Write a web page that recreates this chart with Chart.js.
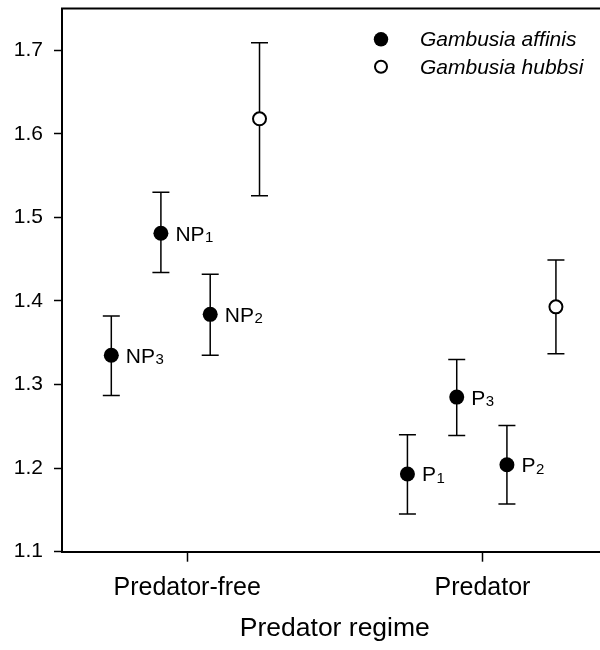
<!DOCTYPE html>
<html>
<head>
<meta charset="utf-8">
<script src="https://cdn.jsdelivr.net/npm/chart.js@4"></script>
<style>
  html, body { margin: 0; padding: 0; background: #fff; overflow: hidden; }
  #wrap { width: 600px; height: 650px; overflow: hidden; }
</style>
</head>
<body>
<div id="wrap"><canvas id="chart" width="620" height="650"></canvas></div>
<script>
// predator regime groups sit at x = 1 and x = 2
var categories = ['Predator-free', 'Predator'];
var categoryPos = [1, 2];
var yTicks = [1.1, 1.2, 1.3, 1.4, 1.5, 1.6, 1.7];

// Gambusia affinis populations
var affinisX = [0.743, 0.911, 1.078, 1.746, 1.913, 2.083];
var affinisY = [1.335, 1.481, 1.384, 1.193, 1.285, 1.204];
var affinisLow = [1.287, 1.434, 1.335, 1.145, 1.239, 1.157];
var affinisHigh = [1.382, 1.530, 1.432, 1.240, 1.330, 1.251];
var affinisName = ['NP', 'NP', 'NP', 'P', 'P', 'P'];
var affinisSub = ['3', '1', '2', '1', '3', '2'];

// Gambusia hubbsi
var hubbsiX = [1.245, 2.249];
var hubbsiY = [1.618, 1.393];
var hubbsiLow = [1.526, 1.337];
var hubbsiHigh = [1.709, 1.449];

var FONT = "'Liberation Sans', Arial, Helvetica, sans-serif";

function toPoints(xs, ys) {
    return xs.map(function(x, i) { return { x: x, y: ys[i] }; });
}

var errorBars = {
    id: 'errorBars',
    beforeDatasetsDraw: function(chart) {
        var ctx = chart.ctx;
        var yScale = chart.scales.y;
        ctx.save();
        ctx.strokeStyle = '#000';
        ctx.lineWidth = 1.5;
        chart.data.datasets.forEach(function(ds, di) {
            var meta = chart.getDatasetMeta(di);
            meta.data.forEach(function(pt, i) {
                var top = yScale.getPixelForValue(ds.errHigh[i]);
                var bot = yScale.getPixelForValue(ds.errLow[i]);
                ctx.beginPath();
                ctx.moveTo(pt.x, top); ctx.lineTo(pt.x, bot);
                ctx.moveTo(pt.x - 8.5, top); ctx.lineTo(pt.x + 8.5, top);
                ctx.moveTo(pt.x - 8.5, bot); ctx.lineTo(pt.x + 8.5, bot);
                ctx.stroke();
            });
        });
        ctx.restore();
    }
};

var pointLabels = {
    id: 'pointLabels',
    afterDatasetsDraw: function(chart) {
        var ctx = chart.ctx;
        var meta = chart.getDatasetMeta(0);
        ctx.save();
        ctx.fillStyle = '#000';
        ctx.textBaseline = 'alphabetic';
        ctx.textAlign = 'left';
        meta.data.forEach(function(pt, i) {
            var x = pt.x + 14.5;
            var base = pt.y + 7.5;
            ctx.font = '21px ' + FONT;
            ctx.fillText(affinisName[i], x, base);
            var w = ctx.measureText(affinisName[i]).width;
            ctx.font = '15px ' + FONT;
            ctx.fillText(affinisSub[i], x + w + 0.5, base + 1.5);
        });
        ctx.restore();
    }
};

var frameAndLegend = {
    id: 'frameAndLegend',
    afterDraw: function(chart) {
        var ctx = chart.ctx;
        var a = chart.chartArea;
        ctx.save();
        ctx.strokeStyle = '#000';
        ctx.lineWidth = 2;
        ctx.beginPath();
        ctx.moveTo(a.left - 1, a.top);
        ctx.lineTo(a.right, a.top);
        ctx.stroke();

        var rows = [
            { name: 'Gambusia affinis', filled: true, y: 39.3 },
            { name: 'Gambusia hubbsi', filled: false, y: 66.7 }
        ];
        ctx.font = 'italic 21px ' + FONT;
        ctx.textBaseline = 'middle';
        ctx.textAlign = 'left';
        rows.forEach(function(r) {
            ctx.beginPath();
            if (r.filled) {
                ctx.arc(381, r.y, 7.2, 0, Math.PI * 2);
                ctx.fillStyle = '#000';
                ctx.fill();
            } else {
                ctx.arc(381, r.y, 6, 0, Math.PI * 2);
                ctx.fillStyle = '#fff';
                ctx.fill();
                ctx.lineWidth = 2;
                ctx.stroke();
            }
            ctx.fillStyle = '#000';
            ctx.fillText(r.name, 420, r.y + 1);
        });
        ctx.restore();
    }
};

new Chart(document.getElementById('chart'), {
    type: 'scatter',
    data: {
        datasets: [{
            label: 'Gambusia affinis',
            data: toPoints(affinisX, affinisY),
            errLow: affinisLow,
            errHigh: affinisHigh,
            pointRadius: 7.5,
            pointBackgroundColor: '#000',
            pointBorderColor: '#000',
            pointBorderWidth: 0
        }, {
            label: 'Gambusia hubbsi',
            data: toPoints(hubbsiX, hubbsiY),
            errLow: hubbsiLow,
            errHigh: hubbsiHigh,
            pointRadius: 6.5,
            pointBackgroundColor: '#fff',
            pointBorderColor: '#000',
            pointBorderWidth: 2
        }]
    },
    options: {
        responsive: false,
        animation: false,
        devicePixelRatio: 1,
        layout: { padding: { left: 0, top: 8.3, right: 12.4, bottom: 0 } },
        plugins: {
            legend: { display: false },
            tooltip: { enabled: false }
        },
        scales: {
            x: {
                type: 'linear',
                min: 0.576,
                max: 2.424,
                afterFit: function(scale) {
                    scale.height = 98.3;
                    scale.paddingLeft = 0;
                    scale.paddingRight = 0;
                },
                afterBuildTicks: function(scale) {
                    scale.ticks = categoryPos.map(function(v) { return { value: v }; });
                },
                ticks: {
                    autoSkip: false,
                    maxRotation: 0,
                    padding: 11,
                    color: '#000',
                    font: { family: FONT, size: 25 },
                    callback: function(v) {
                        var i = categoryPos.indexOf(v);
                        return i >= 0 ? categories[i] : '';
                    }
                },
                grid: {
                    drawOnChartArea: false,
                    drawTicks: true,
                    tickLength: 10,
                    tickColor: '#000',
                    tickWidth: 1.5
                },
                border: { display: true, color: '#000', width: 2 },
                title: {
                    display: true,
                    text: 'Predator regime',
                    color: '#000',
                    font: { family: FONT, size: 26.5 },
                    padding: { top: 0, bottom: 5 }
                }
            },
            y: {
                min: 1.1,
                max: 1.75,
                afterFit: function(scale) {
                    scale.width = 62;
                    scale.paddingTop = 0;
                    scale.paddingBottom = 0;
                },
                afterBuildTicks: function(scale) {
                    scale.ticks = yTicks.map(function(v) { return { value: v }; });
                },
                ticks: {
                    padding: 11,
                    color: '#000',
                    font: { family: FONT, size: 21 },
                    callback: function(v) { return v.toFixed(1); }
                },
                grid: {
                    drawOnChartArea: false,
                    drawTicks: true,
                    tickLength: 8,
                    tickColor: '#000',
                    tickWidth: 1.5
                },
                border: { display: true, color: '#000', width: 2 }
            }
        }
    },
    plugins: [errorBars, pointLabels, frameAndLegend]
});
</script>
</body>
</html>
